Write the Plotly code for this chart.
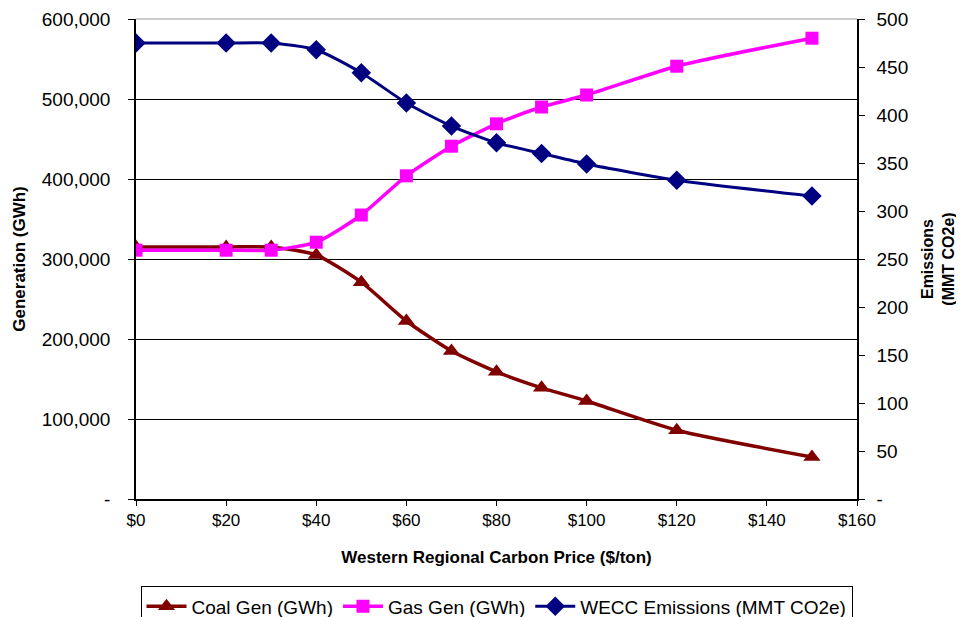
import plotly.graph_objects as go

price = [0, 20, 30, 40, 50, 60, 70, 80, 90, 100, 120, 150]
coal_gen = [315000, 315000, 315000, 305000, 271000, 222500, 185000, 159000, 139000, 122500, 86000, 52500]
gas_gen = [311000, 311000, 311000, 321000, 355000, 404000, 441000, 469000, 490000, 505000, 541000, 576000]
emissions = [475, 475, 475, 468, 444, 412.5, 388.5, 371, 360, 349, 332, 315.5]

left_ticks = [0, 100000, 200000, 300000, 400000, 500000, 600000]
left_text = ["-", "100,000", "200,000", "300,000", "400,000", "500,000", "600,000"]
right_ticks = [0, 50, 100, 150, 200, 250, 300, 350, 400, 450, 500]
right_text = ["-", "50", "100", "150", "200", "250", "300", "350", "400", "450", "500"]
x_ticks = [0, 20, 40, 60, 80, 100, 120, 140, 160]
x_text = ["$0", "$20", "$40", "$60", "$80", "$100", "$120", "$140", "$160"]

font = "Liberation Sans, Arial, sans-serif"

fig = go.Figure()
fig.add_trace(go.Scatter(
    x=price, y=coal_gen, name="Coal Gen (GWh)", mode="lines+markers",
    line=dict(color="#800000", width=3.5, shape="spline", smoothing=0.6),
    marker=dict(symbol="triangle-up", size=15, color="#800000"),
))
fig.add_trace(go.Scatter(
    x=price, y=gas_gen, name="Gas Gen (GWh)", mode="lines+markers",
    line=dict(color="#FF00FF", width=3.5, shape="spline", smoothing=0.6),
    marker=dict(symbol="square", size=13, color="#FF00FF"),
))
fig.add_trace(go.Scatter(
    x=price, y=emissions, name="WECC Emissions (MMT CO2e)", mode="lines+markers",
    yaxis="y2",
    line=dict(color="#000080", width=3, shape="spline", smoothing=0.6),
    marker=dict(symbol="diamond", size=15, color="#000080"),
))

fig.update_layout(
    width=956, height=609,
    margin=dict(l=128, r=107, t=11, b=118, autoexpand=False),
    paper_bgcolor="white", plot_bgcolor="white",
    font=dict(family=font, size=18, color="black"),
    xaxis=dict(
        range=[0, 160], tickvals=x_ticks, ticktext=x_text,
        showgrid=False, zeroline=False, automargin=False,
        showline=True, linecolor="black", linewidth=1.5, mirror=False,
        ticks="outside", ticklen=5, tickcolor="black",
        title=dict(text="<b>Western Regional Carbon Price ($/ton)</b>", font=dict(size=17), standoff=22),
        tickfont=dict(size=17),
    ),
    yaxis=dict(
        range=[0, 600000], tickvals=left_ticks, ticktext=left_text,
        showgrid=True, gridcolor="black", gridwidth=1, zeroline=False, automargin=False,
        showline=True, linecolor="black", linewidth=1.5,
        ticks="outside", ticklen=6, tickcolor="black", ticklabelstandoff=14,
        title=dict(text="<b>Generation (GWh)</b>", font=dict(size=17), standoff=12),
        tickfont=dict(size=19),
    ),
    yaxis2=dict(
        range=[0, 500], tickvals=right_ticks, ticktext=right_text,
        overlaying="y", side="right", showgrid=False, zeroline=False, automargin=False,
        showline=True, linecolor="black", linewidth=1.5,
        ticks="outside", ticklen=6, tickcolor="black", ticklabelstandoff=8,
        title=dict(text="<b>Emissions<br>(MMT CO2e)</b>", font=dict(size=16), standoff=15),
        tickfont=dict(size=19),
    ),
    legend=dict(
        orientation="h", x=0.5, xanchor="center", y=-0.182, yanchor="top",
        bordercolor="black", borderwidth=1, bgcolor="white",
        font=dict(size=19), itemwidth=40,
    ),
    shapes=[dict(type="line", xref="paper", yref="paper", x0=0, x1=1, y0=1, y1=1,
                 line=dict(color="#999999", width=1))],
)

fig.write_html("out.html")
